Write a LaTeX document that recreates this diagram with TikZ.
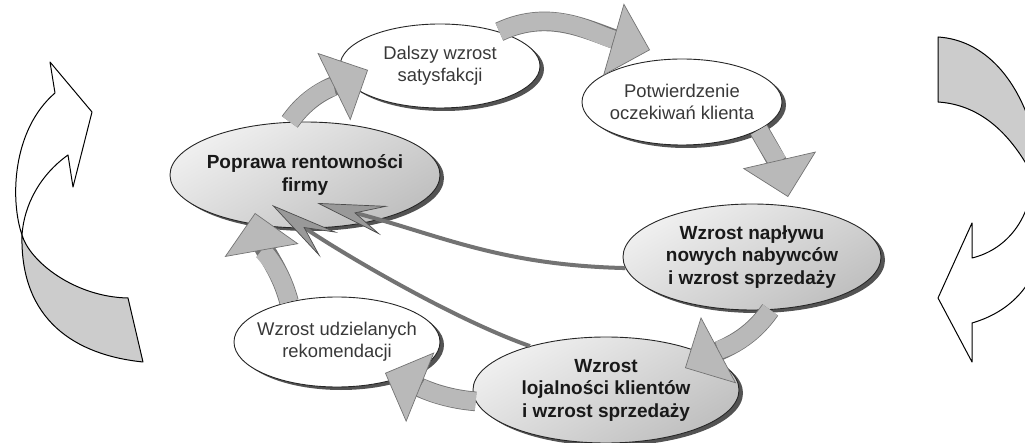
\documentclass[tikz,border=0pt]{standalone}
\usepackage{fontspec}
\setmainfont{Liberation Sans}
\usetikzlibrary{shapes.geometric,arrows.meta,shadows}

\begin{document}
\begin{tikzpicture}[x=1pt, y=1pt,
		ell/.style={ellipse, draw=black!85, line width=0.9pt, inner xsep=-25pt, inner ysep=-5pt, align=center,
			drop shadow={shadow xshift=4pt, shadow yshift=-3pt, fill=black!75, opacity=0.9}},
		ellw/.style={ell, fill=white, text=black!78, font=\fontsize{18.4}{22}\selectfont},
		ellg/.style={ell, top color=gray!12, bottom color=gray!50, shading angle=30, text=black!90,
			font=\fontsize{19}{22.5}\selectfont\bfseries},
		blk/.style={line width=18pt, draw=gray!55,
			-{Triangle[length=38pt, width=75pt, line width=0.7pt, fill=gray!55, color=black!55]},
			preaction={draw=black!55, line width=19.6pt, shorten >=22pt, -}},
		swoosh/.style={line width=4pt, draw=black!55,
			-{Stealth[length=70pt, width=30pt, inset=30pt, line width=0.7pt, fill=gray!80, color=black!70]}},
		ribbon/.style={draw=black, line width=1pt, line join=round}]
	\useasboundingbox (0,0) rectangle (1025,-443);
	\clip (0,0) rectangle (1025,-443);
	
	% 1. outer ribbons
	\filldraw[ribbon, fill=gray!40] (22,-235) .. controls (30,-262) and (75,-297) .. (128,-298) -- (143,-362) .. controls (75,-355) and (20,-320) .. cycle;
	\filldraw[ribbon, fill=white] (22,-235) .. controls (10,-200) and (12,-130) .. (55,-93) -- (50,-62) -- (92,-112) -- (73,-187) -- (68,-155) .. controls (40,-175) and (24,-205) .. cycle;
	\filldraw[ribbon, fill=gray!40] (938,-37) .. controls (985,-40) and (1020,-80) .. (1035,-140) -- (1035,-180) .. controls (1015,-140) and (985,-105) .. (938,-102) -- cycle;
	\filldraw[ribbon, fill=white] (1032,-185) .. controls (1028,-222) and (1005,-250) .. (972,-258) -- (972,-223) -- (938,-298) -- (972,-362) -- (972,-323) .. controls (1010,-312) and (1035,-285) .. (1040,-250) -- cycle;
	
	% 2. ellipses
	\node[ellw, minimum width=200pt, minimum height=84pt] (dalszy) at (440,-66) {Dalszy wzrost\\satysfakcji};
	\node[ellw, minimum width=200pt, minimum height=86pt] (potw) at (682,-102) {Potwierdzenie\\oczekiwań klienta};
	\node[ellg, minimum width=270pt, minimum height=106pt] (poprawa) at (305,-175) {Poprawa rentowności\\firmy};
	\node[ellg, minimum width=258pt, minimum height=106pt] (naplyw) at (752,-257) {Wzrost napływu\\nowych nabywców\\i wzrost sprzedaży};
	\node[ellg, minimum width=266pt, minimum height=106pt] (lojal) at (606,-390) {Wzrost\\lojalności klientów\\i wzrost sprzedaży};
	\node[ellw, minimum width=206pt, minimum height=90pt] (rekom) at (337,-342) {Wzrost udzielanych\\rekomendacji};
	
	% 3. cycle arrows
	\draw[blk] (poprawa.106) to[out=55, in=206] ([xshift=-72pt, yshift=-4pt]dalszy.center);
	\draw[blk] (dalszy.30) to[out=25, in=164] ([xshift=-32pt, yshift=52pt]potw.center);
	\draw[blk] (potw.-20) to[out=-60, in=103] ([xshift=36pt, yshift=60pt]naplyw.center);
	\draw[blk] (naplyw.-71) to[out=235, in=28] ([xshift=79pt, yshift=22pt]lojal.center);
	\draw[blk] (lojal.185) to[out=175, in=-22] ([xshift=48pt, yshift=-31pt]rekom.center);
	\draw[blk] (rekom.140) to[out=105, in=-80] ([xshift=-50pt, yshift=-38pt]poprawa.center);
	
	% 4. feedback arrows
	\draw[swoosh] (naplyw.185) .. controls +(-126,3) and +(123,-32) .. ([xshift=12pt, yshift=-28pt]poprawa.center);
	\draw[swoosh] (lojal.150) .. controls +(-80,28) and +(60,-42) .. ([xshift=-33pt, yshift=-30pt]poprawa.center);
\end{tikzpicture}
\end{document}
